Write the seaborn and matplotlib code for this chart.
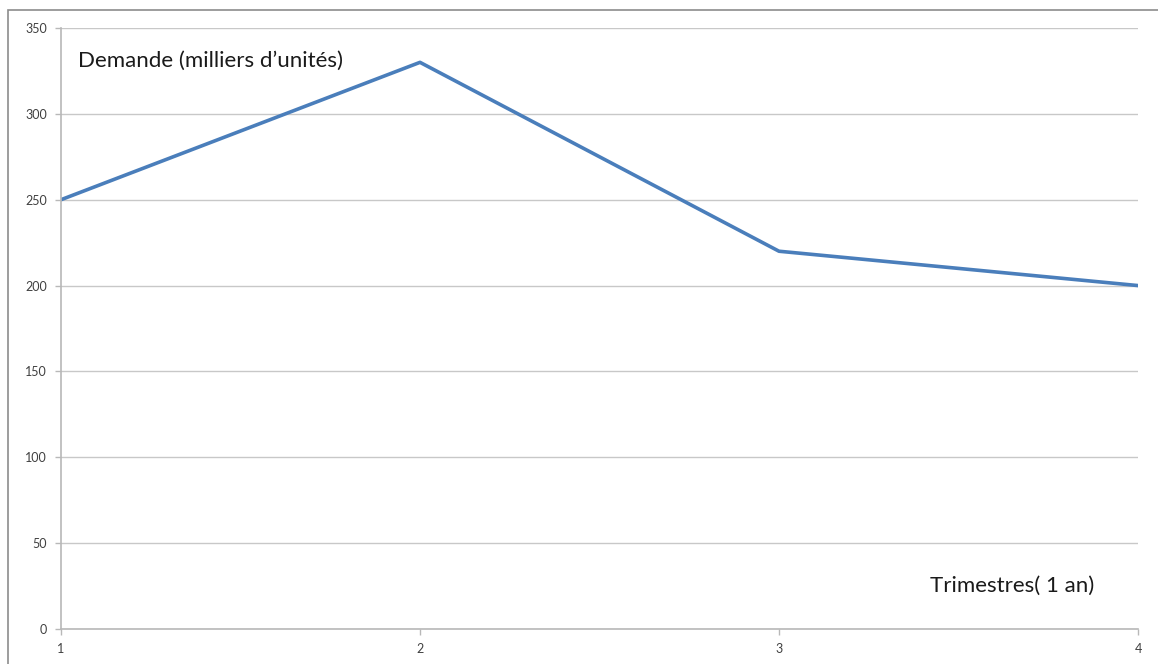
import matplotlib
matplotlib.use("Agg")
import matplotlib.pyplot as plt
import seaborn as sns
import pandas as pd

# Quarterly demand (thousands of units)
trimestres = [1, 2, 3, 4]
demande = [250, 330, 220, 200]
y_ticks = [0, 50, 100, 150, 200, 250, 300, 350]

sns.set_theme(style="white")
plt.rcParams["font.family"] = ["Lato", "DejaVu Sans"]

df = pd.DataFrame({"trimestre": trimestres, "demande": demande})

W, H = 1158, 664
fig = plt.figure(figsize=(W / 100, H / 100), dpi=100)
ax = fig.add_axes([61 / W, 35 / H, (1138 - 61) / W, (629 - 28) / H])

# outer chart frame
frame = plt.Rectangle((8 / W, -0.01), 1.2, (H - 10) / H + 0.01,
                      transform=fig.transFigure, fill=False,
                      edgecolor="#8c8c8c", linewidth=1.2, zorder=0)
fig.patches.append(frame)

sns.lineplot(data=df, x="trimestre", y="demande", ax=ax,
             color="#4a7ebb", linewidth=2.6)

ax.set_xlim(1, 4)
ax.set_ylim(0, 350)
ax.set_xticks(trimestres)
ax.set_yticks(y_ticks)
ax.yaxis.grid(True, color="#c8c8c8", linewidth=1.0)
ax.xaxis.grid(False)
ax.set_axisbelow(True)
ax.set_xlabel("")
ax.set_ylabel("")

for side in ["top", "right"]:
    ax.spines[side].set_visible(False)
for side in ["left", "bottom"]:
    ax.spines[side].set_color("#b8b8b8")
    ax.spines[side].set_linewidth(1.2)

ax.tick_params(axis="x", which="both", bottom=True, length=4, width=1,
               color="#b8b8b8", labelsize=9, labelcolor="#404040", pad=6)
ax.tick_params(axis="y", which="both", left=True, length=4, width=1,
               color="#b8b8b8", labelsize=9, labelcolor="#404040", pad=6)

fig.text(78 / W, 1 - 61 / H, "Demande (milliers d\u2019unités)",
         fontsize=16, color="#1a1a1a", va="center", ha="left")
fig.text(930 / W, 1 - 586 / H, "Trimestres( 1 an)",
         fontsize=16, color="#1a1a1a", va="center", ha="left")

fig.savefig("out.png", dpi=100)
